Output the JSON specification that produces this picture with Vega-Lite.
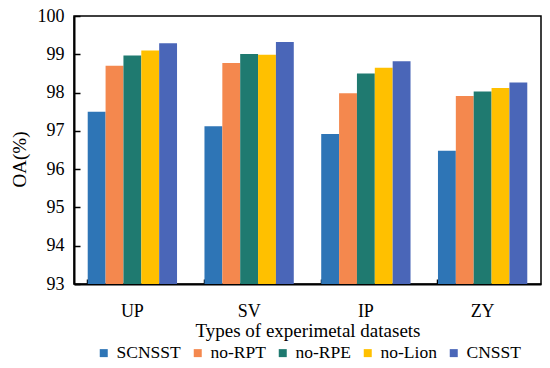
{
  "$schema": "https://vega.github.io/schema/vega-lite/v6.json",
  "width": 467,
  "height": 268,
  "autosize": "none",
  "padding": {"left": 74, "top": 16, "right": 9, "bottom": 84},
  "background": "white",
  "config": {
    "font": "Liberation Serif",
    "view": {"stroke": "black", "strokeWidth": 1.5},
    "axis": {"grid": false, "domainColor": "black", "domainWidth": 2, "tickColor": "black", "tickWidth": 1.5, "labelColor": "black", "titleColor": "black", "labelFont": "Liberation Serif", "titleFont": "Liberation Serif", "labelFontSize": 18, "titleFontSize": 19, "titleFontWeight": "normal"}
  },
  "data": {
    "values": [
      {"dataset": "UP", "method": "SCNSST", "value": 97.50},
      {"dataset": "UP", "method": "no-RPT", "value": 98.70},
      {"dataset": "UP", "method": "no-RPE", "value": 98.97},
      {"dataset": "UP", "method": "no-Lion", "value": 99.10},
      {"dataset": "UP", "method": "CNSST", "value": 99.29},
      {"dataset": "SV", "method": "SCNSST", "value": 97.12},
      {"dataset": "SV", "method": "no-RPT", "value": 98.77},
      {"dataset": "SV", "method": "no-RPE", "value": 99.01},
      {"dataset": "SV", "method": "no-Lion", "value": 98.99},
      {"dataset": "SV", "method": "CNSST", "value": 99.32},
      {"dataset": "IP", "method": "SCNSST", "value": 96.92},
      {"dataset": "IP", "method": "no-RPT", "value": 97.98},
      {"dataset": "IP", "method": "no-RPE", "value": 98.50},
      {"dataset": "IP", "method": "no-Lion", "value": 98.65},
      {"dataset": "IP", "method": "CNSST", "value": 98.82},
      {"dataset": "ZY", "method": "SCNSST", "value": 96.48},
      {"dataset": "ZY", "method": "no-RPT", "value": 97.91},
      {"dataset": "ZY", "method": "no-RPE", "value": 98.03},
      {"dataset": "ZY", "method": "no-Lion", "value": 98.12},
      {"dataset": "ZY", "method": "CNSST", "value": 98.26}
    ]
  },
  "mark": {"type": "bar"},
  "encoding": {
    "x": {
      "field": "dataset", "type": "nominal", "sort": ["UP", "SV", "IP", "ZY"],
      "scale": {"paddingInner": 0.235, "paddingOuter": 0.1175},
      "axis": {"title": "Types of experimetal datasets", "labelAngle": 0, "bandPosition": 0, "tickSize": -5, "labelPadding": 23, "titlePadding": 1}
    },
    "xOffset": {"field": "method", "type": "nominal", "sort": ["SCNSST", "no-RPT", "no-RPE", "no-Lion", "CNSST"], "scale": {"paddingInner": 0, "paddingOuter": 0}},
    "y": {
      "field": "value", "type": "quantitative",
      "scale": {"domain": [93, 100], "zero": false, "nice": false},
      "axis": {"title": "OA(%)", "values": [93, 94, 95, 96, 97, 98, 99, 100], "tickSize": -6, "labelPadding": 16, "titlePadding": 8, "titleY": 143}
    },
    "y2": {"datum": 93},
    "color": {
      "field": "method", "type": "nominal",
      "sort": ["SCNSST", "no-RPT", "no-RPE", "no-Lion", "CNSST"],
      "scale": {"domain": ["SCNSST", "no-RPT", "no-RPE", "no-Lion", "CNSST"], "range": ["#2E75B6", "#F4884E", "#1F7A70", "#FFC000", "#4A66B8"]},
      "legend": {"title": null, "orient": "none", "direction": "horizontal", "legendX": 21, "legendY": 328, "symbolType": "square", "symbolSize": 64, "symbolStrokeWidth": 0, "labelFontSize": 17.5, "labelFont": "Liberation Serif", "labelColor": "black", "labelOffset": 4, "columnPadding": 8}
    }
  }
}
